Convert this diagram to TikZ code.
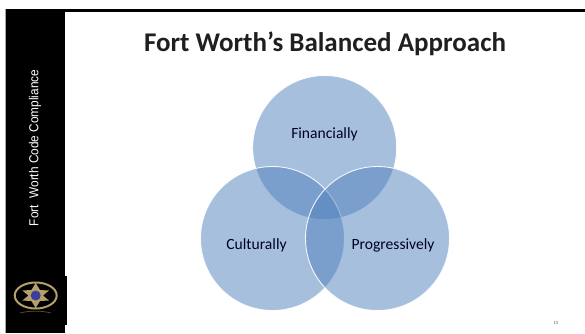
\documentclass[tikz,border=0pt]{standalone}
\usepackage{fontspec}
\setmainfont{Carlito}
\newfontfamily\sidefont{Liberation Sans}
\definecolor{vennblue}{HTML}{4F81BD}
\definecolor{badgegold}{HTML}{B59F6A}
\definecolor{badgeblue}{HTML}{3A3F9E}
\tikzset{
  venn/.style={circle,minimum size=144pt,inner sep=0pt,fill=vennblue,fill opacity=.5,draw=white,draw opacity=.9,line width=.9pt},
  vennlabel/.style={font=\fontsize{15.6}{17}\selectfont,text=black!85!blue,inner sep=0pt,anchor=base},
  titletext/.style={font=\fontsize{27}{30}\bfseries\selectfont,text=black!88,inner sep=0pt,anchor=base},
  sidetext/.style={font=\sidefont\fontsize{13}{14}\selectfont,text=white,inner sep=0pt,rotate=90,xscale=.91},
  pagetext/.style={font=\fontsize{4.5}{5}\selectfont,text=black!70,inner sep=0pt},
  badge/.style={draw=badgegold,line width=2pt}
}
\begin{document}
\begin{tikzpicture}[x=1pt,y=-1pt]
\useasboundingbox (0,0) rectangle (585,333);
\fill[white] (0,0) rectangle (585,333);
% frame
\fill[black] (5,8.5) rectangle (65,333);
\fill[black] (60,276) rectangle (67,325);
\fill[black] (60,8.5) rectangle (585,11.5);
\draw[black!35,line width=.4pt] (5,8.5) -- (5,333);
% venn
\node[venn] (fin) at (324.7,147.5) {};
\node[venn] (cul) at (272.5,238.5) {};
\node[venn] (pro) at (377.5,238.5) {};
\node[vennlabel] (lfin) at (324.5,138) {Financially};
\node[vennlabel] (lcul) at (256.5,249) {Culturally};
\node[vennlabel] (lpro) at (393,249) {Progressively};
% title
\node[titletext] (title) at (325,51) {Fort Worth’s Balanced Approach};
% sidebar
\node[sidetext] (side) at (35,148) {Fort\ \ Worth Code Compliance};
% badge
\coordinate (bc) at (35.7,295.5);
\draw[badge] (bc) ellipse (21pt and 13pt);
\fill[badgegold] (35.7,283) -- (40,290) -- (49,290.5) -- (43,295.5) -- (49,300.5) -- (40,301) -- (35.7,308) -- (31.4,301) -- (22.4,300.5) -- (28.4,295.5) -- (22.4,290.5) -- (31.4,290) -- cycle;
\fill[badgeblue] (bc) circle (5pt);
\draw[black!50!badgegold,line width=.7pt] (20,313) .. controls (30,310.5) and (41,310.5) .. (51,313);
% page
\node[pagetext] (page) at (556,323) {15};
\end{tikzpicture}
\end{document}
